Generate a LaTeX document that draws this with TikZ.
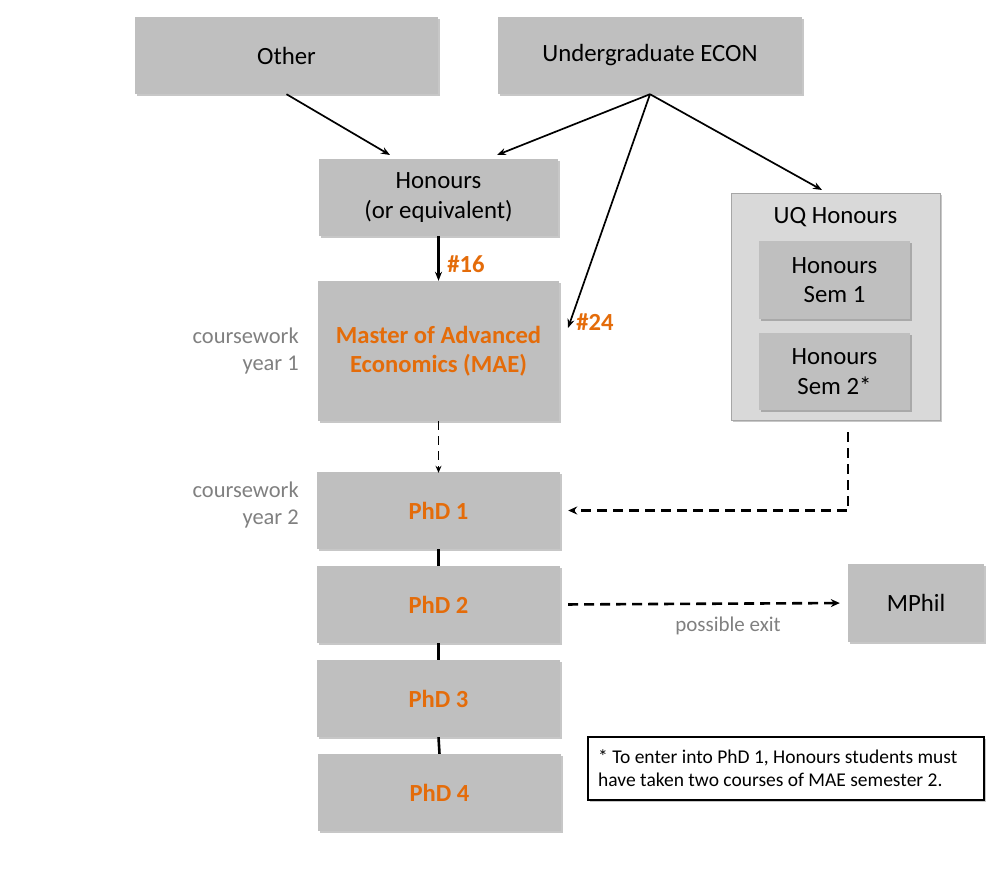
\documentclass[tikz,border=0pt]{standalone}
\usepackage{fontspec}
\setmainfont{Carlito}
\usetikzlibrary{shadows,arrows.meta}
\definecolor{boxgray}{HTML}{BFBFBF}
\definecolor{lightgray2}{HTML}{D9D9D9}
\definecolor{framegray}{HTML}{A6A6A6}
\definecolor{orng}{HTML}{E46C0A}
\definecolor{txtgray}{HTML}{808080}
\begin{document}
\begin{tikzpicture}[x=1pt,y=-1pt,
  shd/.style={drop shadow={shadow xshift=1.5pt,shadow yshift=-1.5pt,fill=black,opacity=0.22}},
  box/.style={fill=boxgray,shd,inner sep=0pt,align=center,font=\fontsize{24.8}{29.5}\selectfont},
  obox/.style={box,text=orng,font=\fontsize{24.6}{29.5}\selectfont\bfseries},
  lbl/.style={text=txtgray,font=\fontsize{22.5}{27}\selectfont,align=right,inner sep=0pt},
  num/.style={text=orng,font=\fontsize{24.6}{29}\selectfont\bfseries,inner sep=0pt},
  arr/.style={line width=1.7pt,-{Stealth[length=9pt,width=7pt]}},
  darr/.style={line width=2.6pt,dash pattern=on 10pt off 6pt,-{Stealth[length=9pt,width=8pt]}},
  thinda/.style={line width=1.5pt,dash pattern=on 9pt off 6pt,-{Stealth[length=7pt,width=6pt]}},
  link/.style={line width=2.6pt}
]
\useasboundingbox (0,0) rectangle (1000,868);
% top boxes
\node[box,minimum width=303pt,minimum height=77pt] (other) at (286.5,55.5) {Other};
\node[box,minimum width=304pt,minimum height=77pt] (ug) at (650,55.5) {Undergraduate ECON};
\node[box,minimum width=239pt,minimum height=77pt] (hon) at (438.5,197.5) {Honours\\(or equivalent)};
\node[obox,minimum width=241pt,minimum height=140pt] (mae) at (438.5,351) {Master of Advanced\\Economics (MAE)};
% UQ honours group
\node[fill=lightgray2,draw=framegray,line width=0.8pt,shd,minimum width=209pt,minimum height=227pt,inner sep=0pt] (uq) at (835.5,306.5) {};
\node[font=\fontsize{24.8}{29.5}\selectfont,inner sep=0pt] (uqt) at (835.5,217) {UQ Honours};
\node[box,minimum width=151pt,minimum height=78pt] (s1) at (834.5,280) {Honours\\Sem 1};
\node[box,minimum width=151pt,minimum height=77pt] (s2) at (834.5,371.5) {Honours\\Sem 2*};
% PhD boxes
\node[obox,minimum width=243pt,minimum height=77pt] (p1) at (438.5,510.5) {PhD 1};
\node[obox,minimum width=243pt,minimum height=77pt] (p2) at (438.5,604.5) {PhD 2};
\node[obox,minimum width=243pt,minimum height=77pt] (p3) at (438.5,698.5) {PhD 3};
\node[obox,minimum width=243pt,minimum height=77pt] (p4) at (439.5,792.5) {PhD 4};
\node[box,minimum width=136pt,minimum height=78pt] (mphil) at (916,603) {MPhil};
% note
\node[draw=black,line width=1.3pt,fill=white,shd,minimum width=396pt,minimum height=63pt,inner sep=0pt] (note) at (786,768.5) {};
\node[anchor=west,align=left,inner sep=0pt,font=\fontsize{19.5}{23}\selectfont] (notet) at (598,768.5) {* To enter into PhD 1, Honours students must\\have taken two courses of MAE semester 2.};
% side labels
\node[lbl,anchor=east] (cw1) at (299,350.5) {coursework\\year 1};
\node[lbl,anchor=east] (cw2) at (299,505) {coursework\\year 2};
% coordinates
\coordinate (honA) at (390,155);
\coordinate (honB) at (497,155);
\coordinate (maeR) at (568,328);
\coordinate (uqT) at (822,190);
\coordinate (uqD) at (848,432);
% arrows
\draw[arr] (other.south) -- (honA);
\draw[arr] (ug.south) -- (honB);
\draw[arr] (ug.south) -- (maeR);
\draw[arr] (ug.south) -- (uqT);
\draw[arr,line width=2.4pt] (hon.south) -- (mae.north);
\node[num] (n16) at (466,264) {\#16};
\node[num] (n24) at (595,322) {\#24};
\draw[thinda] (mae.south) -- ([yshift=-1pt]p1.north);
\draw[darr,shorten >=8pt] (uqD) |- (p1.east);
\draw[link] (p1.south) -- (p2.north);
\draw[link] (p2.south) -- (p3.north);
\draw[link] (p3.south) -- (p4.north);
\draw[darr,shorten <=8pt,shorten >=8pt] (p2.east) -- (mphil.west);
\node[text=txtgray,font=\fontsize{21}{24}\selectfont,inner sep=0pt] (exit) at (728,626) {possible exit};
\end{tikzpicture}
\end{document}
